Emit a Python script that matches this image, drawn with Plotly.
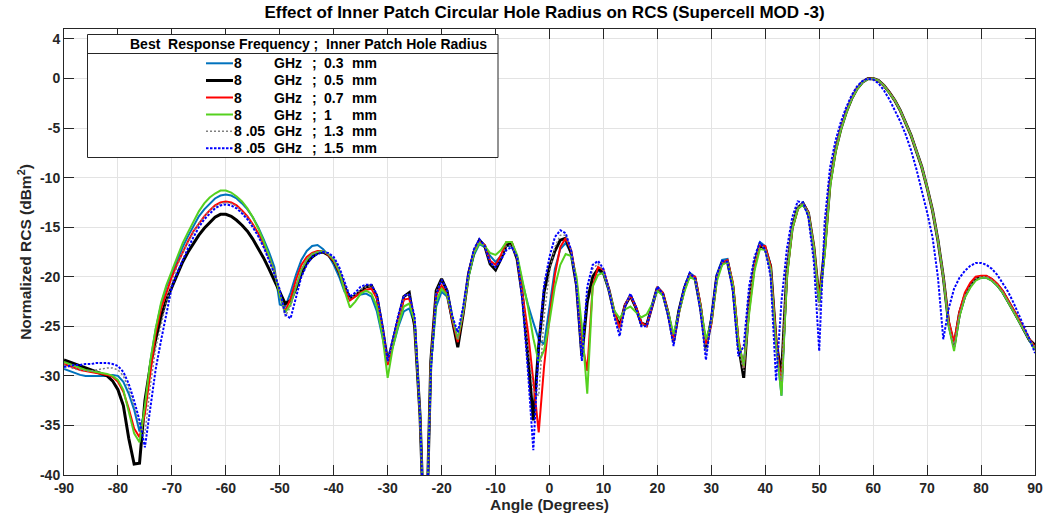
import plotly.graph_objects as go

# ---------------- data ----------------
ANGLE = list(range(-90, 91))

X_TICKS = list(range(-90, 91, 10))
Y_TICKS = [-40, -35, -30, -25, -20, -15, -10, -5, 0, 4]

RCS_03 = [
    -29.3, -29.5, -29.7, -29.9, -30.0, -30.0, -30.0, -30.0, -30.0, -29.9,
    -30.0, -30.6, -31.8, -33.4, -35.6, -33.5, -28.6, -25.3, -22.8, -21.0,
    -19.6, -18.3, -17.0, -15.9, -14.9, -13.9, -13.2, -12.6, -12.1, -11.8,
    -11.7, -11.8, -12.1, -12.6, -13.2, -14.0, -15.0, -16.2, -17.5, -19.0,
    -22.8, -23.0, -21.6, -19.8, -18.3, -17.4, -16.9, -16.8, -17.2, -17.8,
    -18.8, -20.0, -21.5, -22.0, -21.9, -21.8, -21.7, -22.0, -23.5, -26.0,
    -28.7, -27.0, -25.0, -23.5, -23.2, -24.8, -34.0, -50.0, -29.0, -23.0,
    -21.5, -22.0, -24.5, -26.5, -23.5, -20.0, -17.8, -16.7, -17.0, -17.9,
    -18.5, -17.9, -16.9, -16.9, -18.0, -20.6, -22.8, -24.6, -26.3, -26.8,
    -23.0, -19.2, -17.2, -16.6, -17.6, -20.5, -27.0, -22.5, -20.0, -19.4,
    -19.7, -21.3, -23.6, -25.0, -22.8, -22.0, -23.1, -24.6, -24.8, -23.0,
    -21.0, -21.6, -23.6, -26.3, -23.3, -21.0, -19.6, -20.0, -22.9, -27.0,
    -24.2, -19.8, -18.3, -18.2, -20.8, -26.5, -29.0, -22.8, -18.6, -16.5,
    -16.9, -18.8, -26.5, -32.0, -19.8, -15.0, -13.0, -12.5, -13.5, -17.0,
    -22.6, -17.4, -10.7, -7.3, -5.1, -3.4, -2.05, -1.04, -0.37, -0.03,
    0.0, -0.2, -0.7, -1.4, -2.2, -3.2, -4.4, -5.7, -7.3, -8.9,
    -11.0, -13.3, -16.3, -20.0, -24.8, -27.1, -23.9, -22.0, -21.0, -20.3,
    -20.1, -20.1, -20.4, -20.9, -21.6, -22.5, -23.5, -24.5, -25.5, -26.5, -27.3,
]

RCS_05 = [
    -28.4, -28.6, -28.8, -29.0, -29.2, -29.4, -29.6, -29.8, -30.0, -30.5,
    -31.4, -33.0, -36.3, -38.9, -38.8, -32.5, -29.0, -26.3, -24.0, -22.3,
    -21.0, -19.7, -18.5, -17.5, -16.6, -15.8, -15.1, -14.5, -14.0, -13.7,
    -13.7, -13.9, -14.3, -14.8, -15.4, -16.2, -17.1, -18.1, -19.2, -20.4,
    -21.6, -22.7, -22.4, -21.2, -19.7, -18.6, -18.0, -17.6, -17.5, -17.8,
    -18.4, -19.5, -21.0, -22.2, -21.9, -21.4, -21.0, -20.9, -22.0, -25.1,
    -28.6, -26.5, -24.1, -22.0, -21.6, -25.0, -34.0, -50.0, -28.5, -21.4,
    -20.2, -21.4, -24.4, -27.1, -23.7, -19.7, -17.5, -16.3, -16.9, -18.7,
    -19.3, -18.2, -16.8, -16.7, -18.2, -22.0, -28.0, -34.5, -27.0, -21.5,
    -19.0, -17.4, -16.3, -16.1, -17.6, -20.8, -28.0, -22.5, -20.0, -19.2,
    -19.6, -21.3, -23.6, -25.0, -22.9, -21.9, -23.1, -24.7, -24.9, -23.1,
    -21.1, -21.7, -23.7, -26.5, -23.4, -21.2, -19.8, -20.2, -23.1, -27.2,
    -24.4, -20.0, -18.6, -18.5, -21.0, -26.8, -30.2, -22.5, -18.8, -16.8,
    -17.2, -19.0, -26.5, -30.0, -19.5, -15.0, -13.1, -12.6, -13.6, -17.0,
    -22.4, -17.2, -10.6, -7.3, -5.1, -3.4, -2.05, -1.04, -0.37, -0.03,
    0.0, -0.2, -0.7, -1.4, -2.2, -3.2, -4.4, -5.7, -7.3, -8.9,
    -11.0, -13.3, -16.3, -20.0, -24.7, -27.0, -23.7, -21.9, -20.9, -20.2,
    -20.0, -20.0, -20.3, -20.8, -21.5, -22.4, -23.4, -24.4, -25.4, -26.4, -26.9,
]

RCS_07 = [
    -28.8, -29.0, -29.2, -29.4, -29.5, -29.6, -29.7, -29.8, -29.9, -30.1,
    -30.6, -31.6, -33.3, -35.3, -36.2, -33.8, -29.5, -25.7, -23.2, -21.5,
    -20.0, -18.7, -17.5, -16.4, -15.4, -14.6, -13.9, -13.3, -12.8, -12.5,
    -12.4, -12.5, -12.8, -13.3, -13.9, -14.7, -15.6, -16.7, -18.0, -19.5,
    -21.8, -23.5, -22.2, -20.3, -18.8, -18.0, -17.6, -17.4, -17.4, -17.8,
    -18.4, -19.5, -21.2, -22.4, -22.0, -21.6, -21.3, -21.2, -22.2, -25.2,
    -28.9, -26.8, -24.3, -22.3, -22.2, -24.6, -34.0, -50.0, -28.8, -21.8,
    -20.9, -21.8, -24.4, -26.6, -23.6, -19.8, -17.5, -16.5, -16.8, -18.4,
    -18.8, -17.8, -16.5, -16.5, -18.0, -21.8, -25.5, -30.5, -35.7, -29.0,
    -24.0, -19.8, -17.0, -16.1, -17.3, -20.4, -26.5, -29.5, -21.0, -19.0,
    -19.3, -21.2, -23.5, -25.2, -22.8, -21.9, -23.0, -24.6, -25.0, -23.0,
    -21.1, -21.6, -23.6, -26.4, -23.6, -21.3, -19.8, -20.0, -22.8, -26.8,
    -24.8, -20.2, -18.6, -18.3, -20.6, -26.2, -29.2, -23.5, -19.0, -16.8,
    -16.9, -18.9, -26.2, -31.0, -20.0, -15.2, -13.2, -12.6, -13.5, -16.9,
    -22.2, -17.6, -10.8, -7.4, -5.1, -3.4, -2.05, -1.04, -0.37, -0.03,
    0.0, -0.2, -0.7, -1.4, -2.2, -3.2, -4.4, -5.7, -7.3, -8.9,
    -11.0, -13.3, -16.3, -20.0, -24.4, -26.6, -23.5, -21.6, -20.6, -20.0,
    -19.9, -19.9, -20.2, -20.7, -21.4, -22.3, -23.3, -24.3, -25.3, -26.3, -27.1,
]

RCS_10 = [
    -28.6, -28.8, -29.0, -29.2, -29.4, -29.5, -29.6, -29.7, -29.8, -30.0,
    -30.4, -31.4, -33.6, -35.8, -36.7, -33.0, -28.5, -25.2, -22.6, -20.8,
    -19.4, -17.9, -16.6, -15.5, -14.4, -13.4, -12.6, -12.0, -11.6, -11.3,
    -11.3, -11.5, -11.9, -12.4, -13.1, -14.0, -15.1, -16.4, -17.9, -19.6,
    -21.8, -23.6, -22.8, -21.0, -19.3, -18.3, -17.7, -17.5, -17.4, -17.7,
    -18.3, -19.4, -21.4, -23.1, -22.5, -21.7, -21.4, -21.7, -23.0, -25.8,
    -30.2, -27.0, -24.8, -23.0, -22.7, -24.5, -34.0, -50.0, -29.0, -22.5,
    -21.2, -21.8, -24.2, -26.3, -23.5, -20.0, -17.6, -16.6, -16.9, -17.6,
    -17.8, -17.3, -16.5, -16.5, -17.8, -20.3, -23.0, -26.2, -28.6, -27.4,
    -24.5, -21.0, -18.8, -17.7, -17.9, -20.0, -25.0, -31.8, -21.0, -19.8,
    -19.6, -21.3, -23.4, -24.2, -23.3, -23.0, -23.5, -24.1, -23.8, -22.8,
    -21.4, -21.9, -23.6, -25.8, -23.6, -21.5, -20.0, -20.3, -23.0, -26.3,
    -24.6, -20.5, -18.8, -18.5, -20.8, -26.5, -29.0, -23.8, -19.4, -17.2,
    -17.3, -19.2, -26.8, -32.0, -20.2, -15.2, -13.2, -12.7, -13.6, -17.0,
    -22.6, -17.8, -11.0, -7.5, -5.2, -3.5, -2.1, -1.1, -0.4, -0.05,
    0.0, -0.2, -0.7, -1.4, -2.2, -3.2, -4.4, -5.7, -7.3, -8.9,
    -11.0, -13.3, -16.3, -20.0, -25.0, -27.5, -24.0, -22.1, -21.1, -20.4,
    -20.1, -20.1, -20.4, -20.9, -21.6, -22.5, -23.5, -24.5, -25.5, -26.5, -27.4,
]

RCS_13 = [
    -28.9, -29.1, -29.3, -29.4, -29.5, -29.5, -29.4, -29.3, -29.2, -29.2,
    -29.4, -30.0, -31.3, -33.0, -35.0, -35.8, -31.0, -27.2, -24.8, -22.5,
    -20.5, -18.9, -17.6, -16.5, -15.5, -14.6, -13.9, -13.3, -12.9, -12.6,
    -12.5, -12.6, -12.9, -13.4, -14.0, -14.8, -15.8, -16.9, -18.2, -19.6,
    -21.5, -24.0, -23.0, -21.0, -19.3, -18.3, -17.7, -17.5, -17.4, -17.7,
    -18.2, -19.3, -20.8, -22.2, -21.8, -21.3, -21.0, -20.9, -22.0, -25.0,
    -28.6, -26.3, -24.0, -22.0, -21.7, -24.2, -34.0, -50.0, -28.5, -21.5,
    -20.3, -21.4, -24.3, -26.3, -23.5, -19.7, -17.4, -16.3, -16.9, -18.6,
    -19.1, -18.1, -16.9, -16.8, -18.2, -22.0, -27.0, -31.5, -32.0, -24.0,
    -19.5, -17.0, -15.8, -15.8, -17.3, -20.8, -28.2, -21.5, -19.2, -18.7,
    -19.4, -21.3, -23.8, -25.6, -22.9, -21.8, -23.1, -24.8, -25.0, -23.0,
    -21.0, -21.7, -23.8, -26.8, -23.4, -21.1, -19.7, -20.2, -23.2, -27.6,
    -24.3, -19.9, -18.5, -18.5, -21.2, -27.2, -29.5, -22.0, -18.5, -16.7,
    -17.2, -19.3, -27.5, -30.5, -19.0, -14.8, -12.9, -12.5, -13.6, -17.3,
    -23.5, -16.5, -10.3, -7.1, -5.0, -3.3, -2.0, -1.0, -0.35, -0.02,
    0.0, -0.2, -0.7, -1.4, -2.2, -3.2, -4.4, -5.7, -7.3, -8.9,
    -11.0, -13.3, -16.3, -20.0, -24.7, -27.0, -23.7, -21.9, -20.9, -20.2,
    -20.0, -20.0, -20.3, -20.8, -21.5, -22.4, -23.4, -24.4, -25.4, -26.4, -27.0,
]

RCS_15 = [
    -29.1, -29.0, -28.9, -28.9, -28.8, -28.8, -28.7, -28.7, -28.7, -28.8,
    -29.0, -29.6, -30.8, -32.5, -34.5, -37.2, -33.0, -29.3, -26.4, -23.6,
    -21.0, -19.6, -18.3, -17.1, -16.0, -15.0, -14.2, -13.6, -13.1, -12.8,
    -12.7, -12.8, -13.1, -13.6, -14.2, -15.0, -15.9, -17.0, -18.3, -19.7,
    -21.3, -23.8, -24.2, -22.2, -20.0, -18.8, -18.0, -17.7, -17.5, -17.6,
    -18.0, -19.0, -20.5, -22.0, -21.6, -21.0, -20.8, -20.8, -21.8, -24.8,
    -28.5, -26.2, -23.8, -21.9, -21.8, -24.0, -34.0, -50.0, -29.5, -21.8,
    -20.3, -21.3, -24.0, -25.6, -23.0, -19.5, -17.2, -16.2, -16.9, -18.6,
    -19.0, -18.3, -17.3, -17.0, -18.0, -22.5, -29.5, -37.5, -27.0, -20.8,
    -18.0, -16.0, -15.3, -15.6, -17.3, -21.0, -28.5, -21.0, -18.8, -18.4,
    -19.2, -21.3, -24.0, -26.0, -23.0, -21.7, -23.0, -25.0, -25.0, -23.0,
    -21.0, -21.7, -24.0, -27.0, -23.4, -21.0, -19.6, -20.2, -23.5, -28.4,
    -24.2, -19.8, -18.4, -18.5, -21.5, -28.0, -27.0, -21.0, -18.0, -16.5,
    -17.3, -20.0, -30.5, -22.5, -17.2, -14.0, -12.4, -12.5, -14.0, -18.5,
    -27.5, -14.5, -9.0, -6.3, -4.4, -2.9, -1.7, -0.8, -0.25, 0.0,
    -0.1, -0.5, -1.2, -2.1, -3.2, -4.3, -5.6, -7.2, -9.1, -11.2,
    -13.5, -16.0, -20.0, -26.3, -23.2, -21.2, -20.1, -19.4, -18.9, -18.6,
    -18.6, -18.8, -19.2, -19.8, -20.6, -21.5, -22.6, -23.8, -25.0, -26.3, -27.7,
]

SERIES = [
    # (values, freq text, radius text, color, width, dash)
    (RCS_03, "8", "0.3", "#0072BD", 2.0, "solid"),
    (RCS_05, "8", "0.5", "#000000", 3.0, "solid"),
    (RCS_07, "8", "0.7", "#FF0000", 2.0, "solid"),
    (RCS_10, "8", "1", "#55D11F", 2.0, "solid"),
    (RCS_13, "8 .05", "1.3", "#808080", 1.5, "2px,2px"),
    (RCS_15, "8 .05", "1.5", "#0000FF", 2.0, "2.5px,1.5px"),
]

# ---------------- geometry helpers (pixel -> paper) ----------------
W, H = 1056, 516
ML, MR, MT, MB = 64, 21, 29, 41
PW, PH = W - ML - MR, H - MT - MB


def px(xp):
    return (xp - ML) / PW


def py(yp):
    return (H - MB - yp) / PH


FONT = "Liberation Sans, Arial, sans-serif"
AXC = "#262626"

fig = go.Figure()
for vals, fq, rad, col, wid, dash in SERIES:
    fig.add_trace(go.Scatter(
        x=ANGLE, y=vals, mode="lines",
        name=f"{fq} GHz ; {rad} mm",
        line=dict(color=col, width=wid, dash=dash),
        showlegend=False, hoverinfo="skip",
    ))

shapes = []
annotations = []

# legend box
shapes.append(dict(type="rect", xref="paper", yref="paper",
                   x0=px(87.5), x1=px(498), y0=py(157.5), y1=py(34.5),
                   line=dict(color=AXC, width=1), fillcolor="white", layer="above"))
shapes.append(dict(type="line", xref="paper", yref="paper",
                   x0=px(87.5), x1=px(498), y0=py(53.5), y1=py(53.5),
                   line=dict(color=AXC, width=1), layer="above"))
annotations.append(dict(xref="paper", yref="paper", x=px(308.5), y=py(44),
                        text="Best  Response Frequency ;  Inner Patch Hole Radius",
                        showarrow=False, xanchor="center", yanchor="middle",
                        font=dict(family=FONT, size=14, color="#000000", weight="bold")))

ROW_Y = [63.3, 80.5, 97.5, 114.5, 131.3, 148.3]
for (vals, fq, rad, col, wid, dash), yy in zip(SERIES, ROW_Y):
    shapes.append(dict(type="line", xref="paper", yref="paper",
                       x0=px(206), x1=px(233), y0=py(yy), y1=py(yy),
                       line=dict(color=col, width=wid, dash=dash), layer="above"))
    for xx, t in [(232, fq), (272, "GHz"), (310, ";"), (322, rad), (350, "mm")]:
        annotations.append(dict(xref="paper", yref="paper", x=px(xx), y=py(yy),
                                text=t, showarrow=False, xanchor="left", yanchor="middle",
                                font=dict(family=FONT, size=14, color="#000000", weight="bold")))

fig.update_layout(
    width=W, height=H,
    margin=dict(l=ML, r=MR, t=MT, b=MB, autoexpand=False),
    paper_bgcolor="white", plot_bgcolor="white",
    font=dict(family=FONT, size=14, color=AXC, weight="bold"),
    showlegend=False,
    title=dict(text="Effect of Inner Patch Circular Hole Radius on RCS (Supercell MOD -3)",
               xref="container", yref="container", x=544.5 / W, y=1 - 12 / H,
               xanchor="center", yanchor="middle",
               font=dict(family=FONT, size=17, color="#000000", weight="bold")),
    shapes=shapes, annotations=annotations,
)

fig.update_xaxes(
    range=[-90, 90], tickmode="array", tickvals=X_TICKS,
    ticktext=[str(v) for v in X_TICKS],
    ticks="inside", ticklen=10, tickcolor=AXC, tickwidth=1,
    showline=True, linecolor=AXC, linewidth=1, mirror="ticks",
    showgrid=True, gridcolor="#E3E3E3", gridwidth=1, zeroline=False,
    tickfont=dict(family=FONT, size=14, color=AXC, weight="bold"),
    title=dict(text="Angle (Degrees)", standoff=0,
               font=dict(family=FONT, size=15.5, color=AXC, weight="bold")),
    automargin=False,
)
fig.update_yaxes(
    range=[-40, 5], tickmode="array", tickvals=Y_TICKS,
    ticktext=[str(v) for v in Y_TICKS],
    ticks="inside", ticklen=10, tickcolor=AXC, tickwidth=1,
    showline=True, linecolor=AXC, linewidth=1, mirror="ticks",
    showgrid=True, gridcolor="#E3E3E3", gridwidth=1, zeroline=False,
    tickfont=dict(family=FONT, size=14, color=AXC, weight="bold"),
    title=dict(text="Normalized RCS (dBm<sup>2</sup>)", standoff=4,
               font=dict(family=FONT, size=15.5, color=AXC, weight="bold")),
    automargin=False,
)

fig.write_html("out.html")
